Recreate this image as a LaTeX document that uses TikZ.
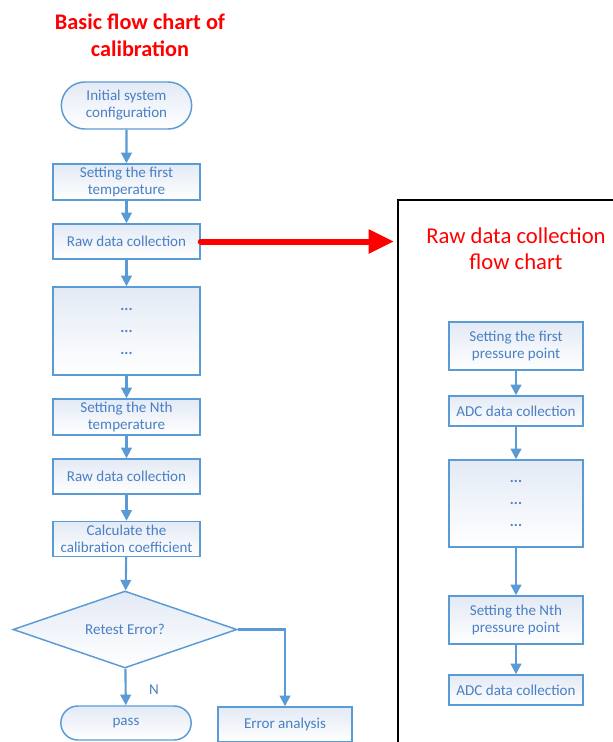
\documentclass[tikz,border=0pt]{standalone}
\usepackage{fontspec}
\setmainfont{Carlito}
\usetikzlibrary{arrows.meta,shapes.geometric,shapes.misc}
\definecolor{bline}{HTML}{5B9BD5}
\definecolor{btext}{HTML}{4A80C4}
\definecolor{bfill}{HTML}{E3EAF5}
\definecolor{rred}{HTML}{FF0000}
\tikzset{
  px/.style={x=0.75pt,y=-0.75pt},
  fbox/.style={draw=bline,line width=1.1pt,top color=bfill,bottom color=white,
    text=btext,font=\fontsize{11.3pt}{12.8pt}\selectfont,align=center,inner sep=1pt,
    minimum width=#1*0.75pt},
  fbox/.default=147,
  term/.style={rounded rectangle,draw=bline,line width=1.1pt,top color=bfill,bottom color=white,
    text=btext,font=\fontsize{11.3pt}{12.8pt}\selectfont,align=center,inner sep=1pt,
    minimum width=133*0.75pt},
  dec/.style={diamond,draw=bline,line width=1.1pt,top color=bfill,bottom color=white,
    text=btext,font=\fontsize{11.3pt}{12.8pt}\selectfont,inner sep=0pt,aspect=2.9,
    minimum width=224*0.75pt,minimum height=77*0.75pt},
  conn/.style={draw=bline,line width=1.6pt,-{Triangle[length=8pt,width=8pt]}},
  ttl/.style={text=rred,align=center},
}
\begin{document}
\begin{tikzpicture}[px]
\useasboundingbox (0,0) rectangle (613,742);
\clip (0,0) rectangle (613,742);
% titles
\node[ttl,font=\bfseries\fontsize{16.7pt}{20pt}\selectfont] (t1) at (140,35) {Basic flow chart of\\calibration};
\node[ttl,font=\fontsize{17pt}{19.5pt}\selectfont] (t2) at (516,249) {Raw data collection\\flow chart};
% left chain
\node[term,minimum height=47*0.75pt] (init) at (126.5,105.5) {Initial system\\configuration};
\node[fbox,minimum height=36*0.75pt] (s1) at (126.5,182) {Setting the first\\temperature};
\node[fbox,minimum height=35*0.75pt] (raw1) at (126.5,241.5) {Raw data collection};
\node[fbox,minimum height=88*0.75pt,font=\bfseries\fontsize{11.3pt}{16.5pt}\selectfont] (d1) at (126.5,331) {...\\...\\...};
\node[fbox,minimum height=36*0.75pt] (sn) at (126.5,417) {Setting the Nth\\temperature};
\node[fbox,minimum height=35*0.75pt] (raw2) at (126.5,476.5) {Raw data collection};
\node[fbox,minimum height=35*0.75pt] (calc) at (126.5,539) {Calculate the\\calibration coefficient};
\node[dec] (ret) at (125,629.5) {Retest Error?};
\node[term,minimum height=34*0.75pt] (pass) at (126,723) {pass};
\node[fbox=134,minimum height=35*0.75pt] (err) at (285,724.5) {Error analysis};
\node[text=btext,font=\fontsize{11.3pt}{12.8pt}\selectfont] (nlab) at (154,690) {N};
% left connectors
\draw[conn] (init) -- (s1);
\draw[conn] (s1) -- (raw1);
\draw[conn] (raw1) -- (d1);
\draw[conn] (d1) -- (sn);
\draw[conn] (sn) -- (raw2);
\draw[conn] (raw2) -- (calc);
\draw[conn] (calc) -- (ret);
\draw[conn] (ret) -- (pass);
\draw[conn] (ret.east) -| (err.north);
% black frame
\draw[black,line width=1.3pt] (398,800) -- (398,200) -- (700,200);
% red arrow
\coordinate (rtip) at (394,241.5);
\draw[rred,line width=4.5pt,line cap=round,-{Triangle[length=19pt,width=17pt]}] (raw1.east) -- (rtip);
% right chain
\node[fbox=134,minimum height=48*0.75pt] (p1) at (516,346) {Setting the first\\pressure point};
\node[fbox=134,minimum height=30*0.75pt] (a1) at (516,411) {ADC data collection};
\node[fbox=134,minimum height=87*0.75pt,font=\bfseries\fontsize{11.3pt}{16.5pt}\selectfont] (d2) at (516,503.5) {...\\...\\...};
\node[fbox=134,minimum height=48*0.75pt] (pn) at (516,620) {Setting the Nth\\pressure point};
\node[fbox=134,minimum height=30*0.75pt] (a2) at (516,690) {ADC data collection};
\draw[conn] (p1) -- (a1);
\draw[conn] (a1) -- (d2);
\draw[conn] (d2) -- (pn);
\draw[conn] (pn) -- (a2);
\end{tikzpicture}
\end{document}
